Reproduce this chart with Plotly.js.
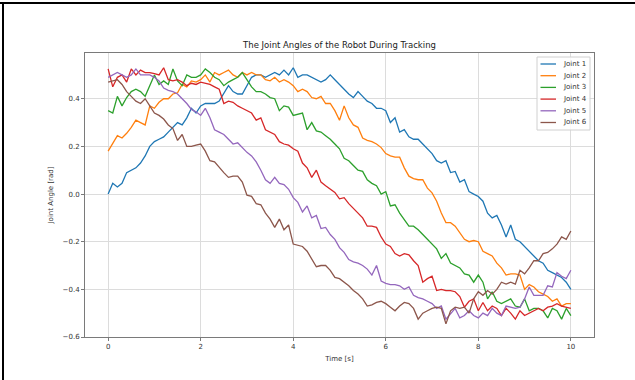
<!DOCTYPE html>
<html>
<head>
<meta charset="utf-8">
<script src="https://cdn.plot.ly/plotly-3.0.1.min.js"></script>
<style>
html,body{margin:0;padding:0;background:#fff;}
#wrap{position:relative;width:635px;height:380px;overflow:hidden;}
#chart{position:absolute;left:0;top:0;width:635px;height:380px;}
.bt{position:absolute;left:0;top:2px;width:635px;height:2px;background:#000;z-index:5;}
.bl{position:absolute;left:2px;top:2px;width:2px;height:378px;background:#000;z-index:5;}
</style>
</head>
<body>
<div id="wrap">
<div id="chart"></div>
<div class="bt"></div>
<div class="bl"></div>
</div>
<script>
const time = [0.0,0.1,0.2,0.3,0.4,0.5,0.6,0.7,0.8,0.9,
1.0,1.1,1.2,1.3,1.4,1.5,1.6,1.7,1.8,1.9,
2.0,2.1,2.2,2.3,2.4,2.5,2.6,2.7,2.8,2.9,
3.0,3.1,3.2,3.3,3.4,3.5,3.6,3.7,3.8,3.9,
4.0,4.1,4.2,4.3,4.4,4.5,4.6,4.7,4.8,4.9,
5.0,5.1,5.2,5.3,5.4,5.5,5.6,5.7,5.8,5.9,
6.0,6.1,6.2,6.3,6.4,6.5,6.6,6.7,6.8,6.9,
7.0,7.1,7.2,7.3,7.4,7.5,7.6,7.7,7.8,7.9,
8.0,8.1,8.2,8.3,8.4,8.5,8.6,8.7,8.8,8.9,
9.0,9.1,9.2,9.3,9.4,9.5,9.6,9.7,9.8,9.9,10.0];

const joint1 = [0.00,0.045,0.03,0.045,0.09,0.10,0.11,0.13,0.16,0.20,
0.22,0.23,0.24,0.26,0.28,0.30,0.29,0.32,0.36,0.34,
0.37,0.38,0.38,0.38,0.39,0.42,0.455,0.43,0.42,0.42,
0.455,0.49,0.50,0.50,0.49,0.50,0.51,0.50,0.52,0.50,
0.53,0.49,0.50,0.50,0.49,0.48,0.47,0.48,0.50,0.48,
0.46,0.44,0.42,0.405,0.43,0.41,0.39,0.38,0.36,0.36,
0.35,0.30,0.32,0.26,0.27,0.24,0.23,0.23,0.21,0.19,
0.17,0.14,0.13,0.14,0.09,0.095,0.05,0.06,0.01,0.00,
-0.01,-0.03,-0.08,-0.10,-0.09,-0.13,-0.18,-0.13,-0.19,-0.20,
-0.22,-0.24,-0.26,-0.28,-0.29,-0.32,-0.33,-0.34,-0.35,-0.37,-0.40];

const joint2 = [0.18,0.215,0.245,0.235,0.255,0.28,0.31,0.30,0.29,0.37,
0.36,0.385,0.40,0.40,0.42,0.425,0.46,0.45,0.475,0.47,
0.48,0.50,0.47,0.51,0.50,0.51,0.52,0.50,0.49,0.51,
0.50,0.51,0.50,0.50,0.48,0.475,0.49,0.47,0.48,0.47,
0.455,0.43,0.44,0.43,0.405,0.40,0.41,0.38,0.38,0.35,
0.31,0.37,0.32,0.29,0.28,0.235,0.225,0.22,0.21,0.195,
0.17,0.16,0.155,0.155,0.11,0.075,0.065,0.06,0.06,0.025,
0.005,-0.03,-0.08,-0.12,-0.12,-0.135,-0.165,-0.19,-0.20,-0.195,
-0.20,-0.24,-0.25,-0.26,-0.29,-0.31,-0.34,-0.335,-0.335,-0.34,
-0.40,-0.38,-0.39,-0.41,-0.42,-0.43,-0.45,-0.44,-0.47,-0.46,-0.46];

const joint3 = [0.35,0.34,0.41,0.37,0.405,0.43,0.44,0.43,0.41,0.455,
0.50,0.46,0.475,0.46,0.525,0.475,0.455,0.50,0.49,0.49,
0.50,0.525,0.51,0.49,0.48,0.455,0.47,0.48,0.49,0.51,
0.48,0.45,0.43,0.43,0.42,0.405,0.40,0.35,0.37,0.365,
0.33,0.335,0.34,0.27,0.30,0.265,0.26,0.245,0.23,0.21,
0.19,0.15,0.14,0.12,0.10,0.095,0.06,0.045,0.035,0.00,
0.01,-0.05,-0.045,-0.08,-0.105,-0.135,-0.135,-0.15,-0.17,-0.19,
-0.21,-0.23,-0.27,-0.25,-0.29,-0.30,-0.31,-0.335,-0.34,-0.37,
-0.34,-0.37,-0.44,-0.41,-0.45,-0.46,-0.45,-0.44,-0.47,-0.475,
-0.44,-0.49,-0.48,-0.48,-0.49,-0.52,-0.48,-0.49,-0.525,-0.48,-0.51];

const joint4 = [0.525,0.45,0.49,0.50,0.47,0.525,0.50,0.52,0.51,0.51,
0.505,0.50,0.53,0.48,0.475,0.48,0.47,0.455,0.465,0.46,
0.47,0.465,0.46,0.45,0.44,0.38,0.39,0.385,0.37,0.36,
0.35,0.34,0.31,0.32,0.27,0.26,0.25,0.22,0.21,0.205,
0.19,0.18,0.13,0.11,0.07,0.10,0.05,0.035,0.02,0.007,
-0.02,-0.015,-0.04,-0.06,-0.08,-0.10,-0.135,-0.135,-0.14,-0.18,
-0.21,-0.22,-0.25,-0.26,-0.25,-0.255,-0.28,-0.30,-0.37,-0.355,
-0.345,-0.405,-0.40,-0.405,-0.405,-0.41,-0.43,-0.475,-0.45,-0.44,
-0.49,-0.455,-0.49,-0.47,-0.48,-0.51,-0.48,-0.50,-0.525,-0.49,
-0.51,-0.50,-0.49,-0.48,-0.49,-0.475,-0.47,-0.46,-0.47,-0.475,-0.48];

const joint5 = [0.49,0.50,0.51,0.50,0.49,0.50,0.525,0.50,0.50,0.50,
0.49,0.475,0.445,0.435,0.43,0.42,0.40,0.38,0.355,0.345,
0.33,0.36,0.32,0.27,0.26,0.25,0.23,0.21,0.215,0.195,
0.175,0.16,0.135,0.10,0.06,0.045,0.07,0.045,0.04,0.02,
-0.015,-0.035,-0.075,-0.05,-0.10,-0.09,-0.145,-0.14,-0.17,-0.19,
-0.225,-0.245,-0.275,-0.285,-0.29,-0.30,-0.315,-0.34,-0.30,-0.365,
-0.375,-0.38,-0.38,-0.385,-0.40,-0.39,-0.425,-0.435,-0.44,-0.45,
-0.46,-0.48,-0.47,-0.525,-0.50,-0.48,-0.52,-0.51,-0.49,-0.51,
-0.52,-0.50,-0.51,-0.48,-0.50,-0.51,-0.47,-0.475,-0.48,-0.475,
-0.44,-0.39,-0.425,-0.425,-0.425,-0.385,-0.39,-0.33,-0.345,-0.355,-0.32];

const joint6 = [0.47,0.475,0.48,0.46,0.43,0.41,0.39,0.38,0.40,0.37,
0.34,0.33,0.315,0.29,0.275,0.225,0.25,0.20,0.20,0.205,
0.21,0.18,0.14,0.135,0.11,0.09,0.07,0.075,0.075,0.05,
-0.005,-0.01,-0.04,-0.045,-0.08,-0.105,-0.14,-0.105,-0.15,-0.13,
-0.21,-0.215,-0.22,-0.24,-0.27,-0.305,-0.30,-0.30,-0.32,-0.35,
-0.355,-0.37,-0.385,-0.405,-0.42,-0.44,-0.47,-0.465,-0.455,-0.45,
-0.46,-0.475,-0.49,-0.47,-0.455,-0.46,-0.48,-0.525,-0.50,-0.49,
-0.48,-0.475,-0.48,-0.545,-0.49,-0.475,-0.48,-0.475,-0.50,-0.44,
-0.41,-0.425,-0.405,-0.42,-0.40,-0.37,-0.378,-0.37,-0.378,-0.32,
-0.335,-0.31,-0.28,-0.28,-0.25,-0.245,-0.23,-0.21,-0.18,-0.19,-0.155];

const seriesNames = ["Joint 1","Joint 2","Joint 3","Joint 4","Joint 5","Joint 6"];
const seriesData = [joint1, joint2, joint3, joint4, joint5, joint6];
const colors = ["#1f77b4","#ff7f0e","#2ca02c","#d62728","#9467bd","#8c564b"];
const xTicks = [0,2,4,6,8,10];
const yTicks = [-0.6,-0.4,-0.2,0.0,0.2,0.4];

const traces = seriesData.map((d,i)=>({
  x: time, y: d, type:'scatter', mode:'lines', name: seriesNames[i],
  line:{color:colors[i], width:1.3}
}));

// compact matplotlib-style legend (plot area: 85..594 px wide, 53..337 px tall)
const PL = 85, PW = 509, PB = 337, PH = 284;
const px2x = p => (p - PL) / PW;
const py2y = p => (PB - p) / PH;
const shapes = [{type:'rect', xref:'paper', yref:'paper', layer:'above',
  x0:px2x(537), x1:px2x(590), y0:py2y(130), y1:py2y(57),
  fillcolor:'rgba(255,255,255,0.85)', line:{color:'#d0d0d0', width:1}}];
const annotations = [];
seriesNames.forEach((n,i)=>{
  const cy = 64 + 11.7*i;
  shapes.push({type:'line', xref:'paper', yref:'paper', layer:'above',
    x0:px2x(540.5), x1:px2x(556), y0:py2y(cy), y1:py2y(cy), line:{color:colors[i], width:1.3}});
  annotations.push({xref:'paper', yref:'paper', x:px2x(561), y:py2y(cy), xanchor:'left', yanchor:'middle',
    text:n, showarrow:false, font:{family:'"DejaVu Sans", sans-serif', size:7, color:'#333'}});
});

const font = {family:'"DejaVu Sans", sans-serif', size:7, color:'#333'};
const layout = {
  width:635, height:380,
  margin:{l:85, r:41, t:53, b:43, pad:0},
  paper_bgcolor:'#fff', plot_bgcolor:'#fff',
  font: font,
  showlegend:false,
  shapes: shapes,
  annotations: annotations,
  title:{text:'The Joint Angles of the Robot During Tracking', font:{family:'"DejaVu Sans", sans-serif', size:8.5, color:'#222'}, x:0.5, xanchor:'center', y:0.882, yanchor:'middle', xref:'paper'},
  xaxis:{range:[-0.5,10.5], tickvals:xTicks, ticktext:xTicks.map(String), showgrid:true, gridcolor:'#dcdcdc', gridwidth:1,
    zeroline:false, showline:true, linecolor:'#7a7a7a', linewidth:1, mirror:true, ticks:'outside', ticklen:3, tickcolor:'#7a7a7a',
    tickfont:font, title:{text:'Time [s]', font:font, standoff:5}, automargin:false},
  yaxis:{range:[-0.6,0.592], tickvals:yTicks, tickformat:'.1f', showgrid:true, gridcolor:'#dcdcdc', gridwidth:1,
    zeroline:false, showline:true, linecolor:'#7a7a7a', linewidth:1, mirror:true, ticks:'outside', ticklen:3, tickcolor:'#7a7a7a',
    tickfont:font, title:{text:'Joint Angle [rad]', font:font, standoff:8}, automargin:false}
};
Plotly.newPlot('chart', traces, layout, {displayModeBar:false, staticPlot:true});
</script>
</body>
</html>
